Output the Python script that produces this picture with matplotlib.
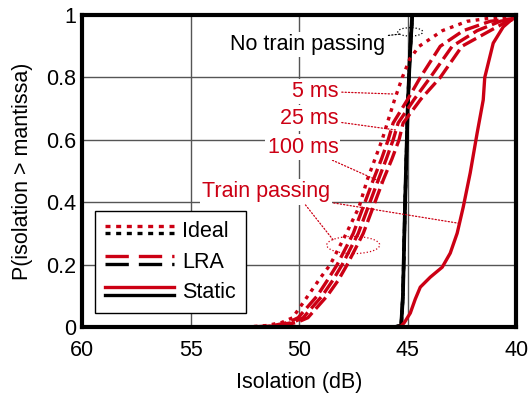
import matplotlib
matplotlib.use("Agg")
import matplotlib.pyplot as plt
from matplotlib.lines import Line2D
from matplotlib.patches import Ellipse
from matplotlib.legend_handler import HandlerBase

plt.rcParams['font.family'] = ['Liberation Sans', 'DejaVu Sans']

RED = '#cc0014'
FS = 15.5

# ---- data (isolation in dB, probability) ----
ideal_db = [52.5, 51.5, 50.8, 50.3, 49.6, 49.0, 48.57, 47.83, 47.24, 46.87, 46.5,
            46.18, 45.94, 45.6, 45.25, 44.9, 44.47, 43.4, 42.26, 41.2, 40.0]
ideal_p = [0.0, 0.005, 0.015, 0.03, 0.10, 0.16, 0.20, 0.30, 0.385, 0.471, 0.54,
           0.60, 0.654, 0.73, 0.80, 0.86, 0.90, 0.95, 0.98, 0.99, 0.995]

lra_p = [0.0, 0.005, 0.015, 0.03, 0.10, 0.15, 0.20, 0.30, 0.385, 0.471, 0.54,
         0.60, 0.654, 0.73, 0.80, 0.90, 0.95, 0.98, 0.99]
lra_5ms_db = [52.2, 51.2, 50.5, 50.05, 49.17, 48.7, 48.25, 47.51, 47.05, 46.59, 46.2,
              45.9, 45.67, 45.0, 44.42, 43.5, 42.44, 41.2, 40.0]
lra_25ms_db = [52.0, 51.0, 50.3, 49.82, 48.94, 48.45, 48.02, 47.28, 46.82, 46.36, 45.98,
               45.67, 45.44, 44.7, 43.96, 42.95, 41.8, 40.74, 40.0]
lra_100ms_db = [51.8, 50.8, 50.1, 49.6, 48.71, 48.2, 47.79, 47.05, 46.59, 46.13, 45.72,
                45.4, 45.21, 44.4, 43.5, 42.5, 41.2, 40.41, 39.9]

static_db = [45.6, 45.3, 45.15, 44.88, 44.65, 44.42, 43.96, 43.41, 43.04, 42.72, 42.44,
             42.12, 41.8, 41.52, 41.45, 41.06, 40.6, 40.14, 40.0]
static_p = [0.0, 0.003, 0.015, 0.045, 0.09, 0.128, 0.16, 0.192, 0.237, 0.301, 0.385,
            0.494, 0.622, 0.728, 0.80, 0.91, 0.962, 0.99, 0.995]

# no train passing: all three schemes lie on top of each other
quiet_db = [45.6, 45.3, 45.22, 45.12, 45.0, 44.9, 44.79]
quiet_p = [0.0, 0.005, 0.1, 0.4, 0.7, 0.87, 1.0]

x_ticks = [60, 55, 50, 45, 40]
y_ticks = [0, 0.2, 0.4, 0.6, 0.8, 1]
y_labels = ['0', '0.2', '0.4', '0.6', '0.8', '1']


class StackHandler(HandlerBase):
    # red line above, black line below, like the original legend
    def create_artists(self, legend, orig_handle, xdescent, ydescent,
                       width, height, fontsize, trans):
        out = []
        for i, h in enumerate(orig_handle):
            y = height / 2 - ydescent + (2.7 if i == 0 else -2.7)
            l = Line2D([-xdescent, width - xdescent], [y, y])
            l.update_from(h)
            l.set_data([-xdescent, width - xdescent], [y, y])
            l.set_transform(trans)
            out.append(l)
        return out


fig = plt.figure(figsize=(5.3, 3.96), dpi=100)
ax = fig.add_axes([0.155, 0.174, 0.819, 0.788])

lw = 2.4
dot = (1.1, 1.6)
dash = (4.5, 1.6)

ax.plot(quiet_db, quiet_p, color='black', lw=lw, dashes=dot)
ax.plot(quiet_db, quiet_p, color='black', lw=lw, dashes=dash)
ax.plot(quiet_db, quiet_p, color='black', lw=lw + 0.3)

ax.plot(ideal_db, ideal_p, color=RED, lw=lw, dashes=dot)
for db in [lra_5ms_db, lra_25ms_db, lra_100ms_db]:
    ax.plot(db, lra_p, color=RED, lw=lw, dashes=dash)
ax.plot(static_db, static_p, color=RED, lw=lw)

ax.set_xlim(60, 40)
ax.set_ylim(0, 1)
ax.set_xticks(x_ticks)
ax.set_xticklabels([str(t) for t in x_ticks])
ax.set_yticks(y_ticks)
ax.set_yticklabels(y_labels)
ax.grid(True, color='#555555', lw=1.0)
ax.set_axisbelow(True)
ax.tick_params(length=0, labelsize=FS)
ax.tick_params(axis='x', pad=9)
ax.tick_params(axis='y', pad=4)
for s in ax.spines.values():
    s.set_linewidth(3)
ax.set_xlabel('Isolation (dB)', fontsize=FS, labelpad=8)
ax.set_ylabel('P(isolation > mantissa)', fontsize=FS, labelpad=10)

# annotations
lead = dict(arrowstyle='-', linestyle=':', lw=0.9, shrinkA=1, shrinkB=0)
box = dict(boxstyle='square,pad=0.1', fc='white', ec='none')
ax.annotate('No train passing', xy=(45.35, 0.939), xytext=(46.05, 0.905),
            ha='right', va='center', fontsize=FS, color='black', bbox=box,
            arrowprops=dict(color='black', **lead))
ax.add_patch(Ellipse((44.88, 0.946), 1.15, 0.027, fill=False, ec='black',
                     ls=':', lw=0.9))

ax.annotate('5 ms', xy=(45.67, 0.747), xytext=(48.2, 0.756), ha='right',
            va='center', fontsize=FS, color=RED, bbox=box,
            arrowprops=dict(color=RED, **lead))
ax.annotate('25 ms', xy=(45.48, 0.631), xytext=(48.2, 0.67), ha='right',
            va='center', fontsize=FS, color=RED, bbox=box,
            arrowprops=dict(color=RED, **lead))
ax.annotate('100 ms', xy=(46.13, 0.462), xytext=(48.2, 0.577), ha='right',
            va='center', fontsize=FS, color=RED, bbox=box,
            arrowprops=dict(color=RED, **lead))
ax.annotate('Train passing', xy=(42.67, 0.333), xytext=(48.57, 0.433),
            ha='right', va='center', fontsize=FS, color=RED, bbox=box,
            arrowprops=dict(color=RED, **lead))
ax.annotate('', xy=(48.43, 0.279), xytext=(49.75, 0.395),
            arrowprops=dict(color=RED, **lead))
ax.add_patch(Ellipse((47.51, 0.263), 2.44, 0.055, fill=False, ec=RED,
                     ls=':', lw=0.9))


# legend
def pair(**kw):
    return (Line2D([], [], color=RED, lw=lw, **kw),
            Line2D([], [], color='black', lw=lw, **kw))


handles = [pair(dashes=(1.5, 1.7)), pair(dashes=(7, 3)), pair()]
leg = ax.legend(handles, ['Ideal', 'LRA', 'Static'],
                handler_map={tuple: StackHandler()},
                loc='lower left', bbox_to_anchor=(0.03, 0.045), borderaxespad=0,
                fontsize=FS, handlelength=3.2, handletextpad=0.4,
                labelspacing=0.45, borderpad=0.45, fancybox=False,
                framealpha=1, edgecolor='black')
leg.get_frame().set_linewidth(1.0)

fig.savefig('out.png', dpi=100)
